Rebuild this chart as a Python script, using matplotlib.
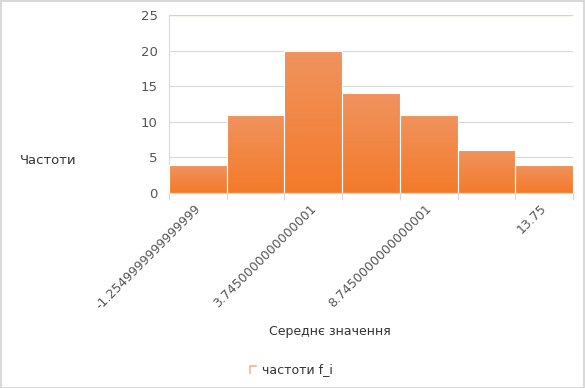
import matplotlib
matplotlib.use("Agg")
import matplotlib.pyplot as plt
import numpy as np
from matplotlib.colors import LinearSegmentedColormap
from matplotlib.transforms import ScaledTranslation

# data
freqs = [4, 11, 20, 14, 11, 6, 4]
edge_labels = ["-1.2549999999999999", "", "3.7450000000000001", "",
               "8.7450000000000001", "", "13.75", ""]

fig = plt.figure(figsize=(5.85, 3.88), dpi=100)
fig.patch.set_facecolor("white")
ax = fig.add_axes([0.2889, 0.5026, 0.6906, 0.4587])

x = np.arange(len(freqs))
bars = ax.bar(x, freqs, width=1.0, align="edge", color="#F47E32",
              edgecolor="white", linewidth=0.8, zorder=2)

# vertical gradient inside bars
cmap = LinearSegmentedColormap.from_list("g", ["#F47A2A", "#F0935E"])
grad = np.linspace(0, 1, 100).reshape(-1, 1)
for b in bars:
    x0, y0 = b.get_x(), b.get_y()
    w, h = b.get_width(), b.get_height()
    im = ax.imshow(grad, cmap=cmap, origin="lower", aspect="auto",
                   extent=[x0, x0 + w, y0, y0 + h], zorder=2.5)
    im.set_clip_path(b)
    ax.add_patch(plt.Rectangle((x0, y0), w, h, fill=False,
                               edgecolor="white", linewidth=0.8, zorder=3))

ax.set_xlim(0, len(freqs))
ax.set_ylim(0, 25)
ax.set_yticks([0, 5, 10, 15, 20, 25])
ax.set_xticks(np.arange(len(freqs) + 1))
ax.set_xticklabels([])

# rotated edge labels, shifted right of their ticks like the original
shift = ScaledTranslation(25 / 100, -9 / 100, fig.dpi_scale_trans)
for i, lbl in enumerate(edge_labels):
    if lbl:
        ax.text(i, 0, lbl, transform=ax.get_xaxis_transform() + shift,
                rotation=45, ha="right", va="top", rotation_mode="anchor",
                fontsize=9, color="#555555", clip_on=False)

ax.yaxis.grid(True, color="#D9D9D9", linewidth=0.8, zorder=0)
ax.set_axisbelow(True)
for s in ["top", "right"]:
    ax.spines[s].set_visible(False)
ax.spines["left"].set_color("#D9D9D9")
ax.spines["bottom"].set_color("#D9D9D9")
ax.axhline(25, color="#C9DFA8", linewidth=1.0, zorder=1)

ax.tick_params(axis="y", length=0, pad=8, labelsize=9.5, labelcolor="#555555")
ax.tick_params(axis="x", length=5, color="#D9D9D9")

fig.text(20 / 585, 1 - 160 / 388, "Частоти", fontsize=9.5, color="#333333",
         va="center", ha="left")
fig.text(330 / 585, 1 - 332 / 388, "Середнє значення", fontsize=9,
         color="#333333", va="center", ha="center")

# legend
fig.text(262 / 585, 1 - 370 / 388, "частоти f_i", fontsize=9,
         color="#333333", va="center", ha="left")
lx, ly = 250 / 585, 1 - 373 / 388
fig.add_artist(plt.Line2D([lx, lx, lx + 6 / 585], [ly, ly + 7 / 388, ly + 7 / 388],
                          color="#F7B58A", linewidth=1.2))

fig.add_artist(plt.Rectangle((0.001, 0.001), 0.997, 0.997, fill=False,
                             edgecolor="#D9D9D9", linewidth=1.5,
                             transform=fig.transFigure))

fig.savefig("out.png", dpi=100)
